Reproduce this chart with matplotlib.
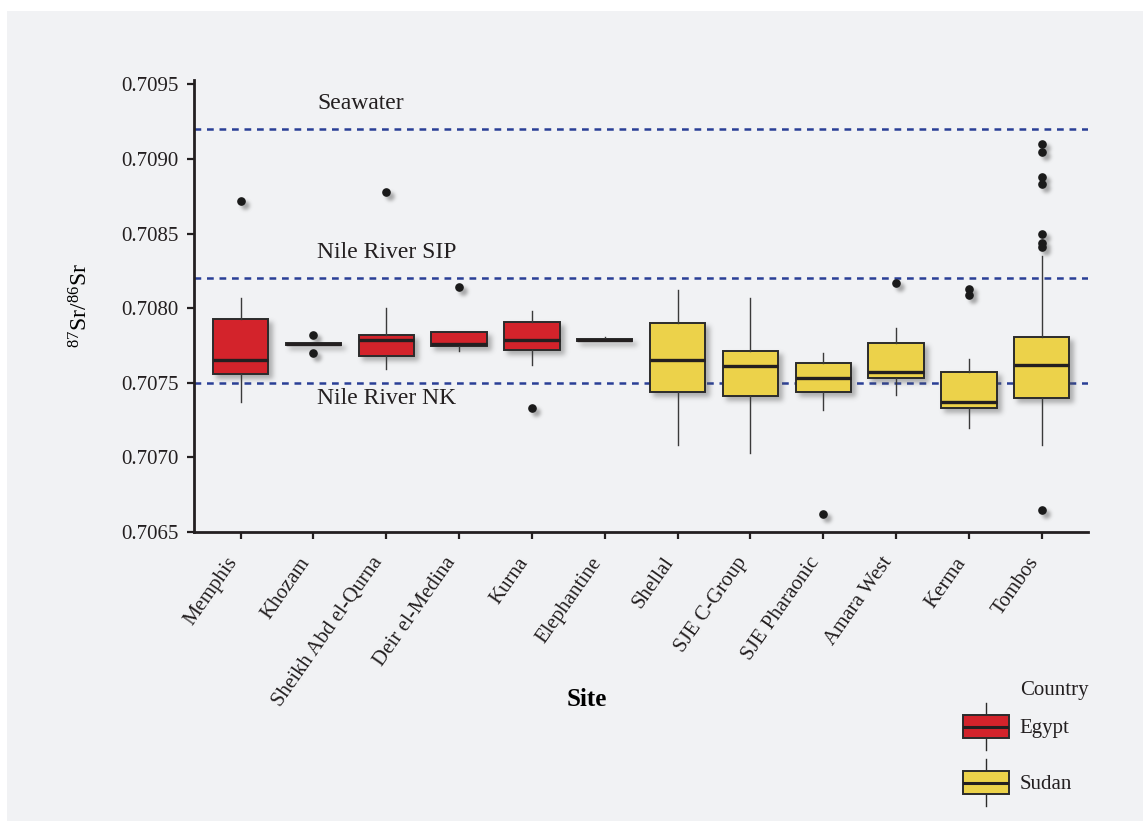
import numpy as np
import matplotlib
matplotlib.use("Agg")
import matplotlib.pyplot as plt
from matplotlib.patches import Rectangle, Patch
from matplotlib.collections import PatchCollection
from matplotlib.lines import Line2D
from matplotlib.legend_handler import HandlerBase
from matplotlib.ticker import FormatStrFormatter
from matplotlib.transforms import ScaledTranslation

plt.rcParams['font.family'] = ['Liberation Serif', 'DejaVu Serif']
plt.rcParams['mathtext.fontset'] = 'custom'
plt.rcParams['mathtext.rm'] = 'Liberation Serif'
plt.rcParams['mathtext.it'] = 'Liberation Serif:italic'
plt.rcParams['text.color'] = '#231f20'

sites = ['Memphis', 'Khozam', 'Sheikh Abd el-Qurna', 'Deir el-Medina', 'Kurna',
         'Elephantine', 'Shellal', 'SJE C-Group', 'SJE Pharaonic', 'Amara West',
         'Kerma', 'Tombos']
country = ['Egypt', 'Egypt', 'Egypt', 'Egypt', 'Egypt', 'Egypt',
           'Sudan', 'Sudan', 'Sudan', 'Sudan', 'Sudan', 'Sudan']

whislo = [0.70737, 0.707752, 0.70759, 0.70771, 0.70762, 0.70778,
          0.70708, 0.70703, 0.70732, 0.70742, 0.70720, 0.70708]
q1 = [0.70756, 0.707752, 0.70768, 0.70775, 0.70772, 0.70778,
      0.70744, 0.70741, 0.70744, 0.70753, 0.70733, 0.70740]
med = [0.70765, 0.70776, 0.70779, 0.70776, 0.70779, 0.707787,
       0.70765, 0.70761, 0.70753, 0.70757, 0.70737, 0.70762]
q3 = [0.70793, 0.70777, 0.70782, 0.70784, 0.70791, 0.707795,
      0.70790, 0.70771, 0.70763, 0.70777, 0.70757, 0.70781]
whishi = [0.70807, 0.70777, 0.70800, 0.70784, 0.70798, 0.70781,
          0.70812, 0.70807, 0.70770, 0.70787, 0.70766, 0.70835]
fliers = [[0.70872], [0.70770, 0.70782], [0.70878], [0.70814], [0.70733], [],
          [], [], [0.70662], [0.70817], [0.70809, 0.70813],
          [0.70665, 0.70841, 0.70844, 0.70850, 0.70883, 0.70888, 0.70905, 0.70910]]

ref_names = ['Seawater', 'Nile River SIP', 'Nile River NK']
ref_values = [0.7092, 0.7082, 0.7075]
ref_text_offset = [18.5, 18.5, -11.5]   # points above/below the line

colors = {'Egypt': '#d3232b', 'Sudan': '#ecd24a'}
edge = '#2b2b2b'
BOX_W = 0.76


def _blur(a, sigma):
    r = int(3 * sigma)
    k = np.exp(-0.5 * (np.arange(-r, r + 1) / sigma) ** 2)
    k /= k.sum()
    for axis in (0, 1):
        out = np.zeros_like(a)
        for i, w in enumerate(k):
            out += w * np.roll(a, i - r, axis=axis)
        a = out
    return a


class SoftShadow:
    """agg filter: blurred, offset grey copy of whatever the artist draws"""
    def __init__(self, sigma=2.5, offset=(4, 4), alpha=0.45, color=(0.35, 0.35, 0.35)):
        self.sigma, self.offset, self.alpha, self.color = sigma, offset, alpha, color

    def __call__(self, im, dpi):
        pad = int(3 * self.sigma + max(self.offset)) + 2
        a = np.pad(im[..., 3], pad)
        a = _blur(a, self.sigma)
        a = np.roll(a, self.offset[0], axis=1)
        a = np.roll(a, self.offset[1], axis=0)
        out = np.zeros(a.shape + (4,))
        out[..., :3] = self.color
        out[..., 3] = np.clip(a * self.alpha, 0, 1)
        return out, -pad, -pad


class BoxHandler(HandlerBase):
    def create_artists(self, legend, orig_handle, xdescent, ydescent,
                       width, height, fontsize, trans):
        x0, y0 = -xdescent, -ydescent
        xc = x0 + width / 2
        whisk = Line2D([xc, xc], [y0, y0 + height], color=edge, lw=1.0)
        box = Rectangle((x0, y0 + 0.255 * height), width, 0.49 * height,
                        facecolor=orig_handle.get_facecolor(), edgecolor=edge, lw=1.4)
        mline = Line2D([x0 + 1, x0 + width - 1], [y0 + height / 2] * 2,
                       color='#231f20', lw=2.2)
        for art in (whisk, box, mline):
            art.set_transform(trans)
        return [whisk, box, mline]


fig = plt.figure(figsize=(11.43, 8.21), dpi=100)
fig.patch.set_facecolor('white')
fig.add_artist(Rectangle((7 / 1143, 0), 1, 1 - 11 / 821, transform=fig.transFigure,
                         facecolor='#f1f2f4', edgecolor='none', zorder=-10))

ax = fig.add_axes([0.1697, 0.352, 0.7825, 0.5506])
ax.set_facecolor('none')

pos = np.arange(len(sites))
stats = []
for i, s in enumerate(sites):
    stats.append(dict(label=s, whislo=whislo[i], q1=q1[i], med=med[i],
                      q3=q3[i], whishi=whishi[i], fliers=fliers[i]))

# reference lines
for name, val, off in zip(ref_names, ref_values, ref_text_offset):
    ax.axhline(val, color='#2a3f96', lw=1.8, ls=(0, (2.7, 2.3)), zorder=1)
    ax.annotate(name, xy=(1.05, val), xytext=(0, off), textcoords='offset points',
                ha='left', va='center', fontsize=17, color='#231f20')

# soft shadows under the boxes and outlier points
shadow_boxes = [Rectangle((p - BOX_W / 2, lo), BOX_W, hi - lo)
                for p, lo, hi in zip(pos, q1, q3)]
pc = PatchCollection(shadow_boxes, facecolor='k', edgecolor='k', lw=1.4, zorder=1.5)
pc.set_agg_filter(SoftShadow())
ax.add_collection(pc)
fx = [p for p, f in zip(pos, fliers) for _ in f]
fy = [v for f in fliers for v in f]
sh, = ax.plot(fx, fy, 'o', ms=5.2, color='k', zorder=1.5)
sh.set_agg_filter(SoftShadow(sigma=1.8, offset=(4, 4), alpha=0.5))

bp = ax.bxp(stats, positions=pos, widths=BOX_W, patch_artist=True, showcaps=False,
            boxprops=dict(edgecolor=edge, lw=1.4),
            whiskerprops=dict(color='#3a3a3a', lw=1.0),
            medianprops=dict(color='#231f20', lw=2.4),
            flierprops=dict(marker='o', markersize=5.2, markerfacecolor='#1a1a1a',
                            markeredgecolor='#1a1a1a'))
for patch, c in zip(bp['boxes'], country):
    patch.set_facecolor(colors[c])

ax.set_xlim(-0.64, 11.64)
ax.set_ylim(0.7065, 0.70953)
ax.set_yticks(np.arange(7065, 7096, 5) / 10000)
ax.yaxis.set_major_formatter(FormatStrFormatter('%.4f'))
ax.set_xticks(pos)

for side in ('top', 'right'):
    ax.spines[side].set_visible(False)
for side in ('left', 'bottom'):
    ax.spines[side].set_linewidth(2.0)
    ax.spines[side].set_color('#231f20')
ax.tick_params(axis='y', length=5, width=1.6, pad=6, labelsize=15, colors='#231f20')
ax.tick_params(axis='x', length=5, width=1.6, pad=11, labelsize=15, colors='#231f20')

ax.set_xticklabels(sites, rotation=55, ha='right', va='center', rotation_mode='anchor')
shift = ScaledTranslation(-0.07, -0.05, fig.dpi_scale_trans)
for lab in ax.get_xticklabels():
    lab.set_transform(lab.get_transform() + shift)

ax.set_xlabel('Site', fontsize=18, fontweight='bold')
ax.xaxis.set_label_coords(0.4395, -0.345)
ax.set_ylabel(r'$^{87}\mathrm{Sr}/^{86}\mathrm{Sr}$', fontsize=17)
ax.yaxis.set_label_coords(-0.113, 0.5)

handles = [Patch(facecolor=colors[c], label=c) for c in ('Egypt', 'Sudan')]
fig.text(1020 / 1143, 1 - 690 / 821, 'Country', ha='left', va='center', fontsize=15)
fig.legend(handles=handles, handler_map={Patch: BoxHandler()}, loc='upper left',
           bbox_to_anchor=(963 / 1143, 1 - 703 / 821), bbox_transform=fig.transFigure,
           frameon=False, fontsize=15, handlelength=2.2, handleheight=3.1,
           labelspacing=0.43, handletextpad=0.53, borderpad=0, borderaxespad=0)

fig.savefig('out.png', dpi=100)
